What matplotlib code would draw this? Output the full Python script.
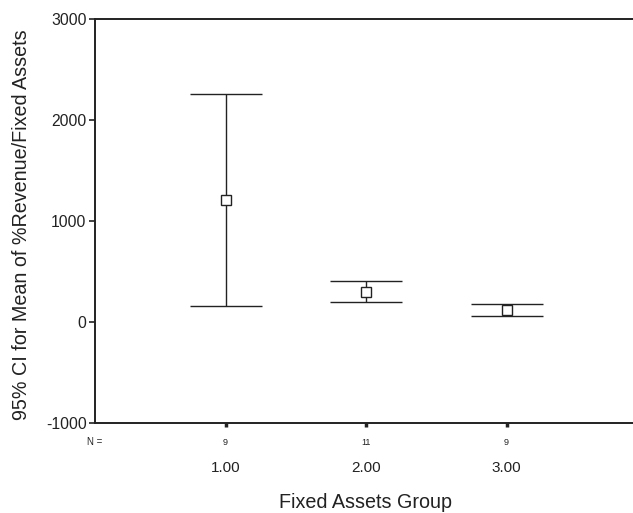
import numpy as np
import matplotlib.pyplot as plt

plt.rcParams['font.family'] = ['Liberation Sans', 'DejaVu Sans']
plt.rcParams['axes.unicode_minus'] = False

# ------------------------------
# Data
# ------------------------------
groups = [1, 2, 3]
group_labels = ['1.00', '2.00', '3.00']
n_counts = [9, 11, 9]
means = [1210, 298, 122]
ci_low = [159, 195, 63]
ci_high = [2253, 404, 179]

ink = '#222222'

fig = plt.figure(figsize=(6.33, 5.13), dpi=100)
ax = fig.add_axes([0.150, 0.175, 0.850, 0.788])

means = np.array(means)
yerr = [means - np.array(ci_low), np.array(ci_high) - means]
ax.errorbar(groups, means, yerr=yerr, fmt='s', ms=7, mfc='white', mec=ink, mew=1.0,
            ecolor=ink, elinewidth=1.0, capsize=26, capthick=1.0, color=ink)

ax.set_xlim(0.07, 3.9)
ax.set_ylim(-1000, 3000)
ax.set_yticks([-1000, 0, 1000, 2000, 3000])
ax.set_xticks(groups)
ax.set_xticklabels([])

for s in ['left', 'bottom', 'top']:
    ax.spines[s].set_linewidth(1.4)
    ax.spines[s].set_color(ink)
ax.spines['right'].set_visible(False)

ax.tick_params(axis='y', direction='out', length=4, width=1.2, color=ink,
               labelsize=11.3, labelcolor=ink, pad=2)
ax.tick_params(axis='x', direction='out', length=3, width=2.5, color=ink)

# N = row and category labels
ax.text(0.0, -0.046, 'N =', transform=ax.transAxes, ha='center', va='center',
        fontsize=7, color=ink)
for g, n, lab in zip(groups, n_counts, group_labels):
    ax.annotate(str(n), xy=(g, 0), xycoords=('data', 'axes fraction'),
                xytext=(0, -14), textcoords='offset points', ha='center', va='center',
                fontsize=6.5, color=ink)
    ax.annotate(lab, xy=(g, 0), xycoords=('data', 'axes fraction'),
                xytext=(0, -32), textcoords='offset points', ha='center', va='center',
                fontsize=11, color=ink)

fig.text(0.578, 0.002, 'Fixed Assets Group', ha='center', va='bottom', fontsize=14.2, color=ink)
fig.text(0.019, 0.562, '95% CI for Mean of %Revenue/Fixed Assets', ha='left', va='center',
         rotation=90, fontsize=14.2, color=ink)

fig.savefig('out.png', dpi=100)
